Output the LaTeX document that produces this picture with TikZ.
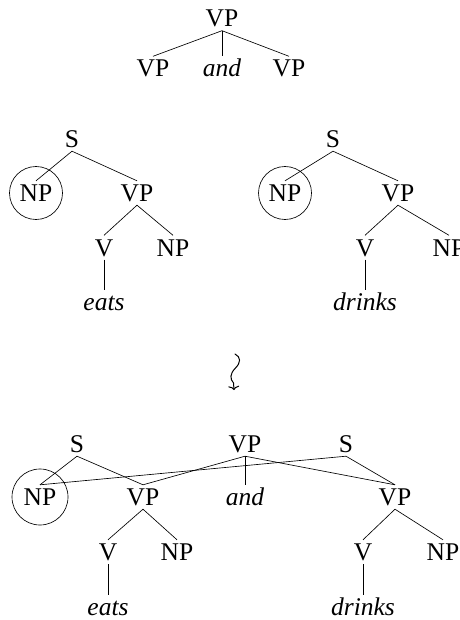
\documentclass[tikz,border=0pt]{standalone}
\usepackage{fontspec}
\setmainfont{Liberation Serif}
\usetikzlibrary{arrows.meta}
\tikzset{
  x=1pt, y=-1pt,
  lab/.style={text height=17pt, text depth=0pt, inner sep=3.5pt, font=\fontsize{25.5}{30}\selectfont},
  word/.style={lab, font=\fontsize{25.5}{30}\selectfont\itshape},
  br/.style={line width=0.65pt},
  ring/.style={line width=0.65pt},
}
\begin{document}
\begin{tikzpicture}
\useasboundingbox (0,0) rectangle (459,620);
% top schema
\node[lab] (t0) at (222,18.5) {VP};
\node[lab] (t1) at (153,68.5) {VP};
\node[word] (t2) at (222,68.5) {and};
\node[lab] (t3) at (289,68.5) {VP};
\draw[br] (t0.south) -- (t1.north);
\draw[br] (t0.south) -- (t2.north);
\draw[br] (t0.south) -- (t3.north);
% left tree
\node[lab] (ls) at (72,139) {S};
\node[lab] (lnp) at (36,193) {NP};
\node[lab] (lvp) at (137,193) {VP};
\node[lab] (lv) at (104,247.5) {V};
\node[lab] (lnp2) at (173,247.5) {NP};
\node[word] (le) at (104,302) {eats};
\draw[ring] (lnp.center) circle[radius=26.5pt];
\draw[br] (ls.south) -- (lnp.north);
\draw[br] (ls.south) -- (lvp.north);
\draw[br] (lvp.south) -- (lv.north);
\draw[br] (lvp.south) -- (lnp2.north);
\draw[br] (lv.south) -- (le.north);
% right tree
\node[lab] (rs) at (333,139) {S};
\node[lab] (rnp) at (285,193) {NP};
\node[lab] (rvp) at (398,193) {VP};
\node[lab] (rv) at (365,247.5) {V};
\node[lab] (rnp2) at (449,247.5) {NP};
\node[word] (rd) at (365,302) {drinks};
\draw[ring] (rnp.center) circle[radius=26.5pt];
\draw[br] (rs.south) -- (rnp.north);
\draw[br] (rs.south) -- (rvp.north);
\draw[br] (rvp.south) -- (rv.north);
\draw[br] (rvp.south) -- (rnp2.north);
\draw[br] (rv.south) -- (rd.north);
% squiggly arrow
\coordinate (aq) at (235,354);
\coordinate (az) at (234,390);
\draw[line width=1pt, line cap=round, -{To[length=4pt,width=11pt]}] (aq) .. controls (241,357) and (241,362.5) .. (235.5,368)
  .. controls (229.5,374) and (230,379) .. (233.5,383) -- (az);
% bottom multidominance structure
\node[lab] (bs1) at (77,444) {S};
\node[lab] (bvp) at (245,444) {VP};
\node[lab] (bs2) at (346,444) {S};
\node[lab] (bnp) at (40,497) {NP};
\node[lab] (bvp1) at (143,497) {VP};
\node[word] (band) at (245,497) {and};
\node[lab] (bvp2) at (395,497) {VP};
\node[lab] (bv1) at (108,552) {V};
\node[lab] (bnp1) at (177,552) {NP};
\node[lab] (bv2) at (363,552) {V};
\node[lab] (bnp2) at (443,552) {NP};
\node[word] (be) at (108,607) {eats};
\node[word] (bd) at (363,607) {drinks};
\draw[ring] (bnp.center) circle[radius=28pt];
\draw[br] (bs1.south) -- (bnp.north);
\draw[br] (bs1.south) -- (bvp1.north);
\draw[br] (bvp.south) -- (bvp1.north);
\draw[br] (bvp.south) -- (band.north);
\draw[br] (bvp.south) -- (bvp2.north);
\draw[br] (bs2.south) -- (bnp.north);
\draw[br] (bs2.south) -- (bvp2.north);
\draw[br] (bvp1.south) -- (bv1.north);
\draw[br] (bvp1.south) -- (bnp1.north);
\draw[br] (bv1.south) -- (be.north);
\draw[br] (bvp2.south) -- (bv2.north);
\draw[br] (bvp2.south) -- (bnp2.north);
\draw[br] (bv2.south) -- (bd.north);
\end{tikzpicture}
\end{document}
